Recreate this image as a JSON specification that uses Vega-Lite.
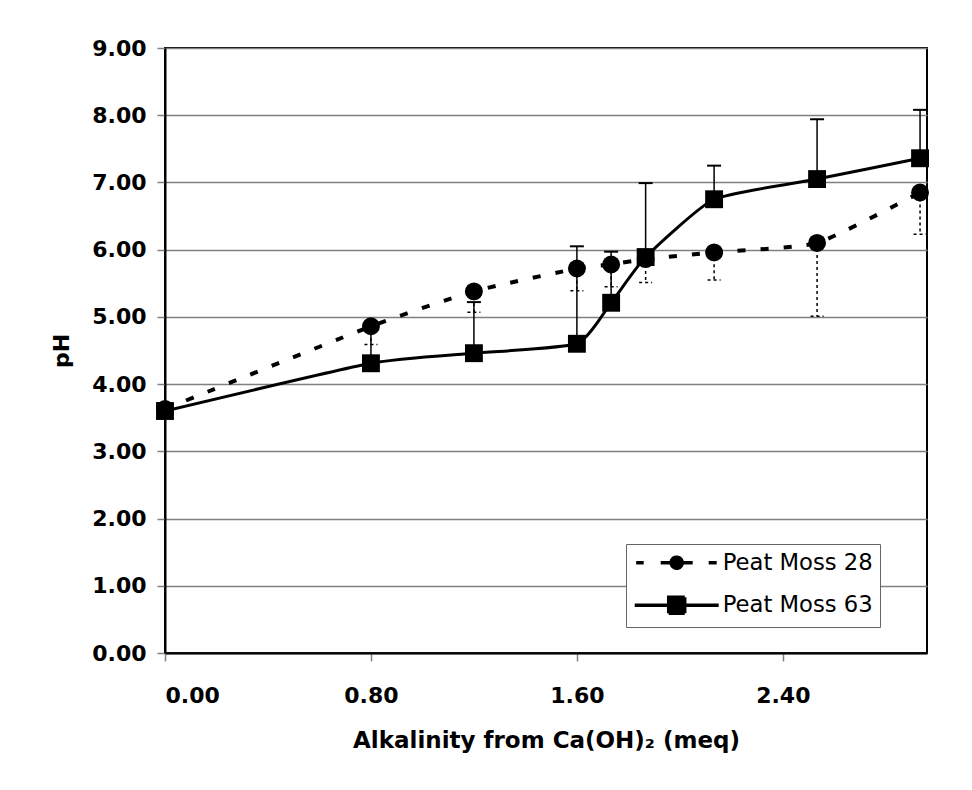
{
  "$schema": "https://vega.github.io/schema/vega-lite/v6.json",
  "width": 762,
  "height": 605,
  "autosize": {"type": "none"},
  "padding": {"left": 165, "top": 48, "right": 45, "bottom": 137},
  "background": "white",
  "config": {
    "view": {"stroke": "black", "strokeWidth": 2},
    "font": "DejaVu Sans",
    "axis": {
      "labelFont": "DejaVu Sans",
      "labelFontWeight": "bold",
      "labelFontSize": 22,
      "labelColor": "black",
      "titleFont": "DejaVu Sans",
      "titleFontWeight": "bold",
      "titleFontSize": 23,
      "titleColor": "black",
      "domainColor": "black",
      "domainWidth": 2,
      "tickColor": "#808080",
      "tickWidth": 1.5,
      "tickSize": 8,
      "gridColor": "#808080",
      "gridWidth": 1.5
    },
    "legend": {
      "title": null,
      "orient": "none",
      "legendX": 461,
      "legendY": 496,
      "padding": 6.7,
      "strokeColor": "#666666",
      "fillColor": "white",
      "labelFont": "DejaVu Sans",
      "labelFontSize": 22.7,
      "labelColor": "black",
      "labelOffset": 66,
      "rowPadding": 14.6,
      "symbolSize": 400,
      "symbolFillColor": "black",
      "symbolStrokeColor": "black",
      "symbolStrokeWidth": 3.5,
      "symbolDash": [1, 0],
      "symbolOpacity": 1
    }
  },
  "datasets": {
    "pts": [
      {"x": 0, "series": "Peat Moss 28", "pH": 3.63, "err": null},
      {"x": 0.8, "series": "Peat Moss 28", "pH": 4.86, "err": 4.59},
      {"x": 1.2, "series": "Peat Moss 28", "pH": 5.38, "err": 5.07},
      {"x": 1.6, "series": "Peat Moss 28", "pH": 5.72, "err": 5.39},
      {"x": 1.733, "series": "Peat Moss 28", "pH": 5.78, "err": 5.45},
      {"x": 1.867, "series": "Peat Moss 28", "pH": 5.86, "err": 5.51},
      {"x": 2.133, "series": "Peat Moss 28", "pH": 5.96, "err": 5.55},
      {"x": 2.533, "series": "Peat Moss 28", "pH": 6.10, "err": 5.01},
      {"x": 2.933, "series": "Peat Moss 28", "pH": 6.85, "err": 6.23},
      {"x": 0, "series": "Peat Moss 63", "pH": 3.60, "err": null},
      {"x": 0.8, "series": "Peat Moss 63", "pH": 4.31, "err": 4.85},
      {"x": 1.2, "series": "Peat Moss 63", "pH": 4.46, "err": 5.22},
      {"x": 1.6, "series": "Peat Moss 63", "pH": 4.60, "err": 6.05},
      {"x": 1.733, "series": "Peat Moss 63", "pH": 5.21, "err": 5.97},
      {"x": 1.867, "series": "Peat Moss 63", "pH": 5.89, "err": 6.99},
      {"x": 2.133, "series": "Peat Moss 63", "pH": 6.75, "err": 7.25},
      {"x": 2.533, "series": "Peat Moss 63", "pH": 7.05, "err": 7.94},
      {"x": 2.933, "series": "Peat Moss 63", "pH": 7.36, "err": 8.08}
    ]
  },
  "data": {"name": "pts"},
  "encoding": {
    "x": {
      "field": "x", "type": "quantitative",
      "scale": {"domain": [0, 2.96], "nice": false, "zero": false},
      "axis": {"values": [0, 0.8, 1.6, 2.4], "format": ".2f", "grid": false, "labelPadding": 24, "titlePadding": 23, "title": "Alkalinity from Ca(OH)₂ (meq)"}
    },
    "y": {
      "field": "pH", "type": "quantitative",
      "scale": {"domain": [0, 9], "nice": false},
      "axis": {"values": [0, 1, 2, 3, 4, 5, 6, 7, 8, 9], "format": ".2f", "grid": true, "labelPadding": 11, "titlePadding": 18, "titleFontSize": 22, "title": "pH"}
    }
  },
  "layer": [
    {
      "transform": [{"filter": "datum.series === 'Peat Moss 28'"}],
      "mark": {"type": "line", "interpolate": "cardinal", "tension": 0.5, "strokeWidth": 4, "strokeDash": [8, 15]},
      "encoding": {
        "color": {
          "field": "series", "type": "nominal",
          "scale": {"domain": ["Peat Moss 28", "Peat Moss 63"], "range": ["black", "black"]},
          "legend": {
            "symbolType": {"expr": "datum.value === 'Peat Moss 28' ? 'M-0.85,0H-0.1M1.6,0H2.55M3.85,0H4.8M6.4,0H7.2M3.75,0A0.55,0.55,0,1,1,2.65,0A0.55,0.55,0,1,1,3.75,0Z' : 'M-1,0H7.4M2.4,-0.8H4.0V0.8H2.4Z'"}
          }
        }
      }
    },
    {
      "transform": [{"filter": "datum.series === 'Peat Moss 28' && datum.err != null"}],
      "mark": {"type": "rule", "color": "black", "strokeWidth": 1.5, "strokeDash": [3, 3]},
      "encoding": {"y2": {"field": "err"}}
    },
    {
      "transform": [{"filter": "datum.series === 'Peat Moss 28' && datum.err != null"}],
      "mark": {"type": "point", "shape": "stroke", "size": 169, "stroke": "black", "strokeWidth": 1.5, "strokeDash": [3, 3], "filled": false, "opacity": 1},
      "encoding": {"y": {"field": "err", "type": "quantitative"}}
    },
    {
      "transform": [{"filter": "datum.series === 'Peat Moss 28'"}],
      "mark": {"type": "point", "shape": "circle", "filled": true, "color": "black", "opacity": 1, "size": 320}
    },
    {
      "transform": [{"filter": "datum.series === 'Peat Moss 63'"}],
      "mark": {"type": "line", "interpolate": "cardinal", "tension": 0.5, "strokeWidth": 3},
      "encoding": {
        "color": {
          "field": "series", "type": "nominal",
          "scale": {"domain": ["Peat Moss 28", "Peat Moss 63"], "range": ["black", "black"]},
          "legend": {
            "symbolType": {"expr": "datum.value === 'Peat Moss 28' ? 'M-0.85,0H-0.1M1.6,0H2.55M3.85,0H4.8M6.4,0H7.2M3.75,0A0.55,0.55,0,1,1,2.65,0A0.55,0.55,0,1,1,3.75,0Z' : 'M-1,0H7.4M2.4,-0.8H4.0V0.8H2.4Z'"}
          }
        }
      }
    },
    {
      "transform": [{"filter": "datum.series === 'Peat Moss 63' && datum.err != null"}],
      "mark": {"type": "rule", "color": "black", "strokeWidth": 1.5},
      "encoding": {"y2": {"field": "err"}}
    },
    {
      "transform": [{"filter": "datum.series === 'Peat Moss 63' && datum.err != null"}],
      "mark": {"type": "point", "shape": "stroke", "size": 196, "stroke": "black", "strokeWidth": 2, "filled": false, "opacity": 1},
      "encoding": {"y": {"field": "err", "type": "quantitative"}}
    },
    {
      "transform": [{"filter": "datum.series === 'Peat Moss 63'"}],
      "mark": {"type": "point", "shape": "square", "filled": true, "color": "black", "opacity": 1, "size": 320}
    }
  ]
}
